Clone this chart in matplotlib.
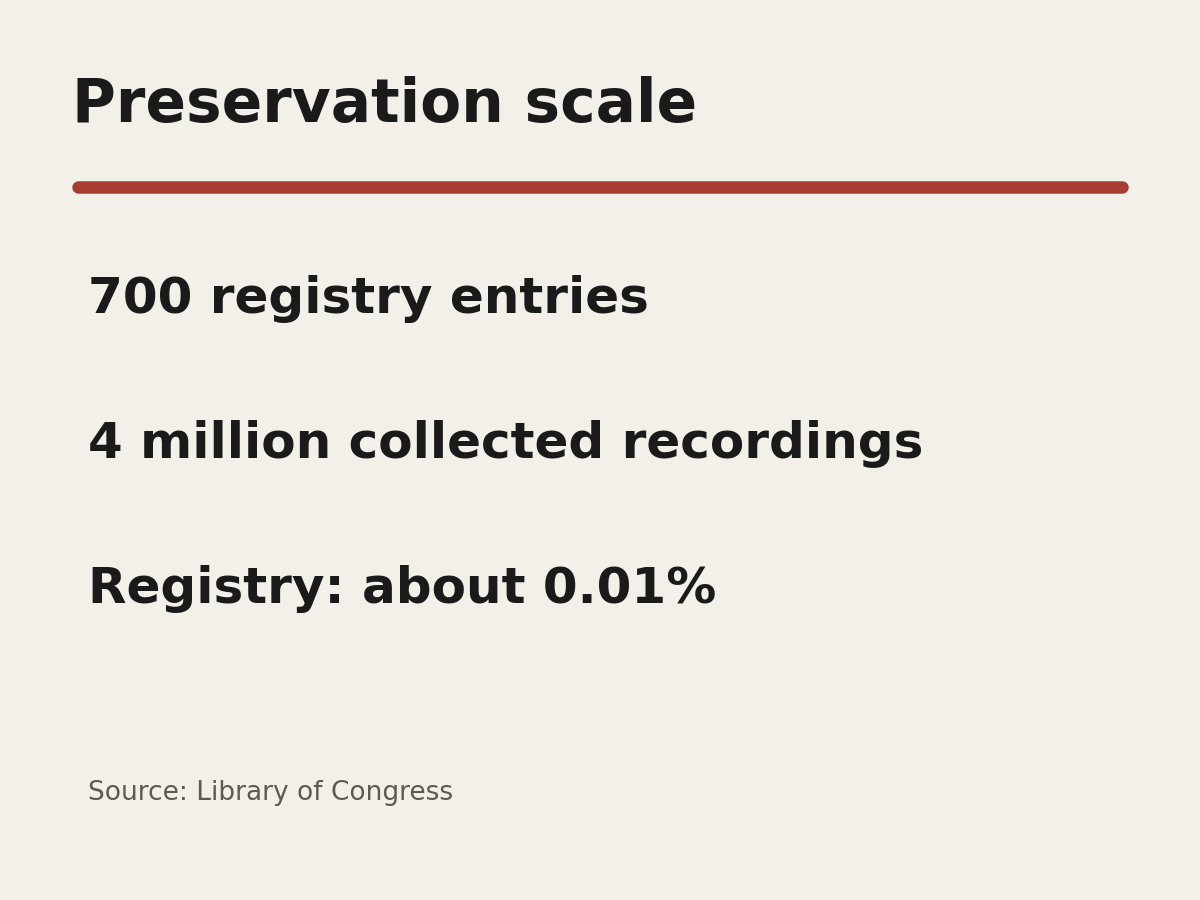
import matplotlib
matplotlib.use("Agg")
from matplotlib import pyplot as plt

title = "Preservation scale"
facts = ["700 registry entries", "4 million collected recordings", "Registry: about 0.01%"]
source = "Source: Library of Congress"

W, H = 1200, 900
fig = plt.figure(figsize=(12, 9), dpi=100)
fig.patch.set_facecolor("#f3efe9")

def fy(px):
    return 1 - px / H

fig.text(72 / W, fy(122), title, fontsize=43, fontweight="bold",
         color="#1a1a1a", va="baseline", ha="left")

ax = fig.add_axes([0, 0, 1, 1])
ax.set_xlim(0, W)
ax.set_ylim(H, 0)
ax.axis("off")
ax.plot([78, 1122], [187, 187], color="#a63d30", lw=9, solid_capstyle="round")

for i, t in enumerate(facts):
    fig.text(88 / W, fy(313 + i * 145), t, fontsize=36, fontweight="bold",
             color="#1a1a1a", va="baseline", ha="left")

fig.text(88 / W, fy(800), source, fontsize=19, color="#5e5a52",
         va="baseline", ha="left")

plt.savefig("out.png", facecolor=fig.get_facecolor())
plt.close()
